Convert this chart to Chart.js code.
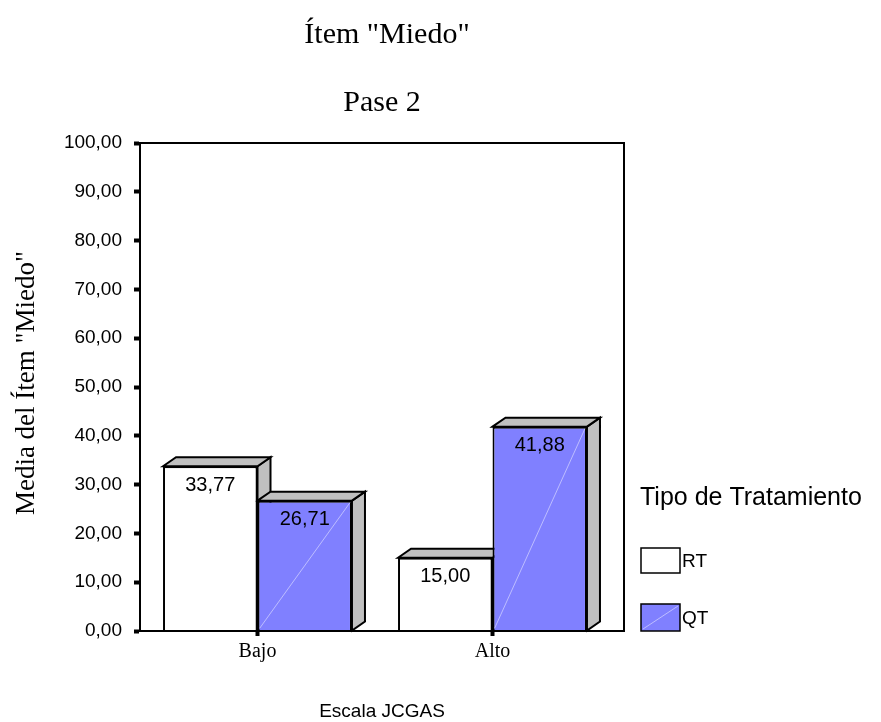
<!DOCTYPE html>
<html>
<head>
<meta charset="utf-8">
<script src="https://cdn.jsdelivr.net/npm/chart.js@4.4.1/dist/chart.umd.min.js"></script>
<style>
  html, body { margin: 0; padding: 0; background: #ffffff; }
  canvas { display: block; }
</style>
</head>
<body>
<canvas id="chart" width="881" height="722"></canvas>
<script>
// Categories of the JCGAS scale and mean item score per treatment type
const categories = ['Bajo', 'Alto'];
const seriesNames = ['RT', 'QT'];
const rtValues = [33.77, 15.00];
const qtValues = [26.71, 41.88];
const yTicks = [0, 10, 20, 30, 40, 50, 60, 70, 80, 90, 100];

const titleText = 'Ítem "Miedo"';
const subtitleText = 'Pase 2';
const yTitleText = 'Media del Ítem "Miedo"';
const xTitleText = 'Escala JCGAS';
const legendTitleText = 'Tipo de Tratamiento';

const SANS = '"Liberation Sans", Arial, sans-serif';
const SERIF = '"Liberation Serif", "Times New Roman", serif';
const BLUE = '#8080FF';
const SIDE = '#C0C0C0';
const DEPTH_X = 13;
const DEPTH_Y = -9;
const FRAME_RIGHT = 624;
const EDGE = 2;

const fmt = v => v.toFixed(2).replace('.', ',');

// Top and side faces of each bar, drawn before the front faces
const bar3d = {
  id: 'bar3d',
  beforeDatasetsDraw(chart) {
    const ctx = chart.ctx;
    ctx.save();
    ctx.lineWidth = EDGE;
    ctx.strokeStyle = '#000';
    ctx.lineJoin = 'miter';
    for (let i = 0; i < categories.length; i++) {
      chart.data.datasets.forEach((ds, di) => {
        const el = chart.getDatasetMeta(di).data[i];
        const p = el.getProps(['x', 'y', 'base', 'width'], true);
        const L = p.x - p.width / 2, R = p.x + p.width / 2;
        const top = p.y, base = p.base;
        // side face
        ctx.beginPath();
        ctx.moveTo(R, top);
        ctx.lineTo(R + DEPTH_X, top + DEPTH_Y);
        ctx.lineTo(R + DEPTH_X, base + DEPTH_Y);
        ctx.lineTo(R, base);
        ctx.closePath();
        ctx.fillStyle = SIDE;
        ctx.fill();
        ctx.stroke();
        // top face
        ctx.beginPath();
        ctx.moveTo(L, top);
        ctx.lineTo(L + DEPTH_X, top + DEPTH_Y);
        ctx.lineTo(R + DEPTH_X, top + DEPTH_Y);
        ctx.lineTo(R, top);
        ctx.closePath();
        ctx.fillStyle = SIDE;
        ctx.fill();
        ctx.stroke();
      });
    }
    ctx.restore();
  },
  afterDatasetsDraw(chart) {
    const ctx = chart.ctx;
    ctx.save();
    // faint diagonal highlight on the filled bars
    chart.data.datasets.forEach((ds, di) => {
      if (!ds.diagonal) return;
      chart.getDatasetMeta(di).data.forEach(el => {
        const p = el.getProps(['x', 'y', 'base', 'width'], true);
        ctx.beginPath();
        ctx.moveTo(p.x - p.width / 2 + 2, p.base - 2);
        ctx.lineTo(p.x + p.width / 2 - 2, p.y + 2);
        ctx.strokeStyle = 'rgba(215,215,255,0.7)';
        ctx.lineWidth = 1;
        ctx.stroke();
      });
    });
    // value labels inside the top of each bar
    ctx.fillStyle = '#000';
    ctx.font = '20px ' + SANS;
    ctx.textAlign = 'center';
    ctx.textBaseline = 'middle';
    chart.data.datasets.forEach((ds, di) => {
      chart.getDatasetMeta(di).data.forEach((el, i) => {
        const p = el.getProps(['x', 'y'], true);
        ctx.fillText(fmt(ds.data[i]), p.x, p.y + 19);
      });
    });
    ctx.restore();
  }
};

// Frame, titles and legend
const decorations = {
  id: 'decorations',
  afterDraw(chart) {
    const ctx = chart.ctx;
    const area = chart.chartArea;
    ctx.save();
    ctx.strokeStyle = '#000';
    ctx.lineWidth = EDGE;
    ctx.beginPath();
    ctx.moveTo(area.left, area.top);
    ctx.lineTo(FRAME_RIGHT, area.top);
    ctx.lineTo(FRAME_RIGHT, area.bottom);
    ctx.lineTo(area.left, area.bottom);
    ctx.stroke();

    ctx.fillStyle = '#000';
    ctx.textAlign = 'center';
    ctx.textBaseline = 'alphabetic';
    ctx.font = '30px ' + SERIF;
    ctx.fillText(titleText, 387, 43);
    ctx.fillText(subtitleText, 382, 111);

    ctx.font = '27px ' + SERIF;
    ctx.save();
    ctx.translate(34, 383);
    ctx.rotate(-Math.PI / 2);
    ctx.fillText(yTitleText, 0, 0);
    ctx.restore();

    ctx.font = '19px ' + SANS;
    ctx.fillText(xTitleText, 382, 717);

    // legend
    ctx.textAlign = 'left';
    ctx.font = '25px ' + SANS;
    ctx.fillText(legendTitleText, 640, 505);
    const boxes = [{ y: 548, h: 25 }, { y: 604, h: 27 }];
    chart.data.datasets.forEach((ds, di) => {
      const b = boxes[di];
      ctx.fillStyle = ds.backgroundColor;
      ctx.fillRect(641, b.y, 39, b.h);
      if (ds.diagonal) {
        ctx.beginPath();
        ctx.moveTo(643, b.y + b.h - 2);
        ctx.lineTo(678, b.y + 2);
        ctx.strokeStyle = 'rgba(215,215,255,0.7)';
        ctx.lineWidth = 1;
        ctx.stroke();
      }
      ctx.strokeStyle = '#000';
      ctx.lineWidth = 1.5;
      ctx.strokeRect(641, b.y, 39, b.h);
      ctx.fillStyle = '#000';
      ctx.font = '19px ' + SANS;
      ctx.textBaseline = 'middle';
      ctx.fillText(ds.label, 682, b.y + b.h / 2 + 1);
      ctx.textBaseline = 'alphabetic';
    });
    ctx.restore();
  }
};

new Chart(document.getElementById('chart'), {
  type: 'bar',
  data: {
    labels: categories,
    datasets: [
      { label: seriesNames[0], data: rtValues, backgroundColor: '#FFFFFF',
        borderColor: '#000', borderWidth: EDGE, diagonal: false },
      { label: seriesNames[1], data: qtValues, backgroundColor: BLUE,
        borderColor: '#000', borderWidth: EDGE, diagonal: true }
    ]
  },
  options: {
    responsive: false,
    animation: false,
    devicePixelRatio: 1,
    layout: { padding: { left: 0, right: 271, top: 143, bottom: 0 } },
    datasets: { bar: { categoryPercentage: 0.804, barPercentage: 1.0 } },
    plugins: {
      legend: { display: false },
      title: { display: false },
      tooltip: { enabled: false }
    },
    scales: {
      y: {
        min: 0,
        max: 100,
        afterFit(scale) { scale.width = 140; },
        afterBuildTicks(scale) { scale.ticks = yTicks.map(v => ({ value: v })); },
        ticks: {
          callback: v => fmt(v),
          color: '#000',
          font: { family: SANS, size: 19 },
          padding: 12
        },
        grid: { drawOnChartArea: false, drawTicks: true, tickLength: 6, tickWidth: 4, tickColor: '#000' },
        border: { display: true, color: '#000', width: EDGE }
      },
      x: {
        afterFit(scale) { scale.height = 91; },
        ticks: {
          color: '#000',
          font: { family: SERIF, size: 20 },
          padding: 4,
          maxRotation: 0
        },
        grid: { offset: false, drawOnChartArea: false, drawTicks: true, tickLength: 5, tickWidth: 4, tickColor: '#000' },
        border: { display: true, color: '#000', width: EDGE }
      }
    }
  },
  plugins: [bar3d, decorations]
});
</script>
</body>
</html>
